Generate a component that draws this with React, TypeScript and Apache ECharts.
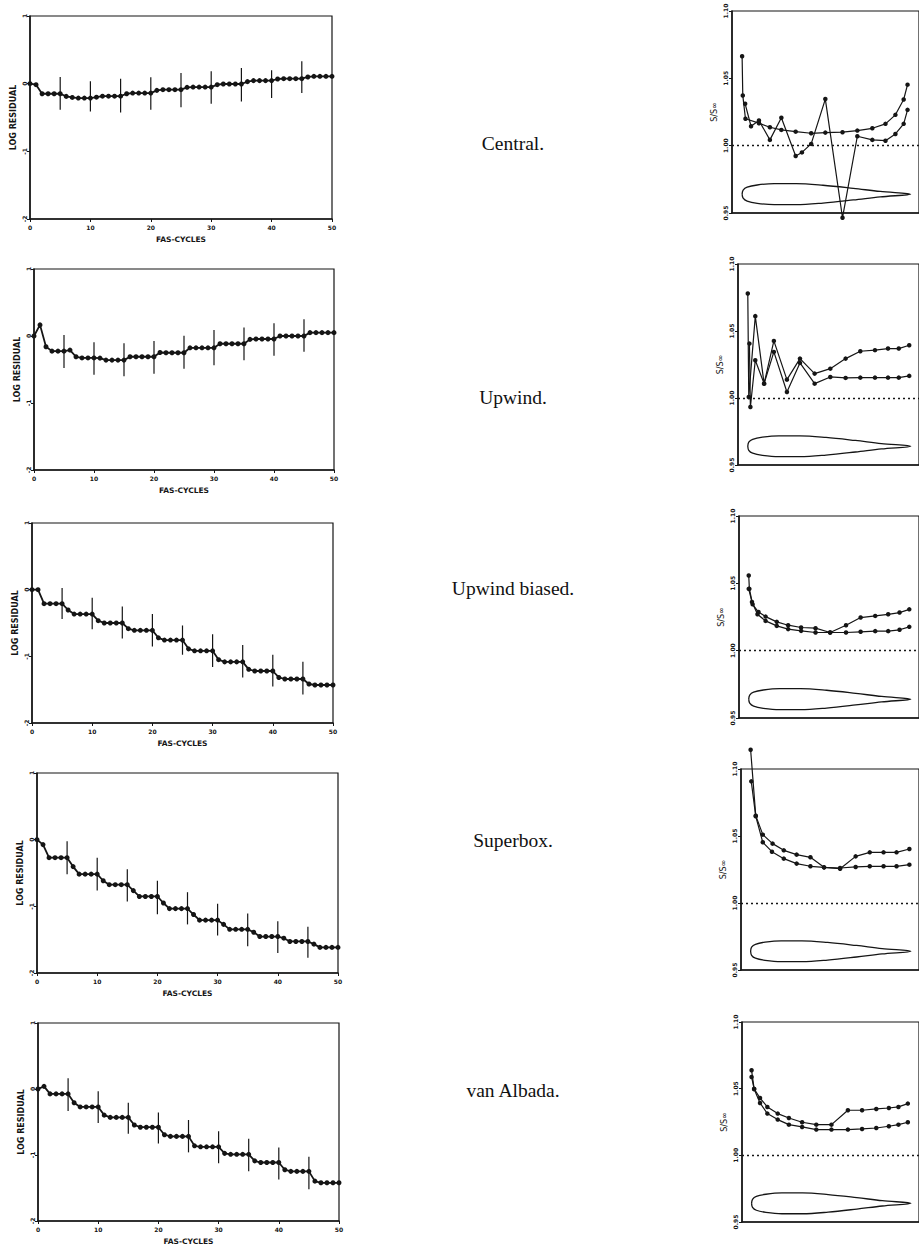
import React, { useEffect, useRef } from "react";
import * as echarts from "echarts";

// ---------- Data ----------
const CYCLES = Array.from({ length: 51 }, (_, i) => i);
const Y_TICKS_LEFT = [-2, -1, 0, 1];
const Y_TICKS_RIGHT = [0.95, 1.0, 1.05, 1.1];

const SCHEMES = ["Central.", "Upwind.", "Upwind biased.", "Superbox.", "van Albada."];

const RES_CENTRAL = [0, -0.015, -0.149, -0.149, -0.149, -0.149, -0.188, -0.203, -0.213, -0.213, -0.213, -0.2, -0.185, -0.185, -0.185, -0.185, -0.149, -0.139, -0.139, -0.139, -0.139, -0.099, -0.089, -0.089, -0.089, -0.089, -0.054, -0.05, -0.05, -0.05, -0.05, -0.015, -0.005, -0.005, -0.005, -0.005, 0.03, 0.045, 0.045, 0.045, 0.045, 0.069, 0.074, 0.074, 0.074, 0.074, 0.099, 0.109, 0.109, 0.109, 0.109];
const RES_UPWIND = [0, 0.166, -0.16, -0.226, -0.226, -0.226, -0.21, -0.31, -0.327, -0.327, -0.327, -0.33, -0.36, -0.36, -0.36, -0.36, -0.31, -0.31, -0.31, -0.31, -0.31, -0.246, -0.25, -0.25, -0.25, -0.25, -0.176, -0.176, -0.176, -0.176, -0.176, -0.116, -0.116, -0.116, -0.116, -0.116, -0.05, -0.045, -0.045, -0.045, -0.045, 0, 0, 0, 0, 0, 0.05, 0.05, 0.05, 0.05, 0.05];
const RES_UPWIND_BIASED = [0, 0, -0.21, -0.21, -0.21, -0.21, -0.305, -0.366, -0.366, -0.366, -0.366, -0.465, -0.5, -0.5, -0.5, -0.5, -0.585, -0.61, -0.61, -0.61, -0.61, -0.722, -0.756, -0.756, -0.756, -0.756, -0.888, -0.917, -0.917, -0.917, -0.917, -1.05, -1.083, -1.083, -1.083, -1.083, -1.195, -1.22, -1.22, -1.22, -1.22, -1.317, -1.34, -1.34, -1.34, -1.34, -1.415, -1.43, -1.43, -1.43, -1.43];
const RES_SUPERBOX = [0, -0.074, -0.27, -0.27, -0.27, -0.27, -0.404, -0.517, -0.517, -0.517, -0.517, -0.616, -0.675, -0.675, -0.675, -0.675, -0.764, -0.852, -0.852, -0.852, -0.852, -0.95, -1.034, -1.034, -1.034, -1.034, -1.123, -1.207, -1.207, -1.207, -1.207, -1.271, -1.345, -1.345, -1.345, -1.345, -1.389, -1.453, -1.453, -1.453, -1.453, -1.478, -1.527, -1.527, -1.527, -1.527, -1.567, -1.616, -1.616, -1.616, -1.616];
const RES_VAN_ALBADA = [0, 0.04, -0.074, -0.074, -0.074, -0.074, -0.208, -0.272, -0.272, -0.272, -0.272, -0.396, -0.43, -0.43, -0.43, -0.43, -0.545, -0.579, -0.579, -0.579, -0.579, -0.693, -0.718, -0.718, -0.718, -0.718, -0.861, -0.876, -0.876, -0.876, -0.876, -0.975, -0.99, -0.99, -0.99, -0.99, -1.089, -1.114, -1.114, -1.114, -1.114, -1.223, -1.248, -1.248, -1.248, -1.248, -1.396, -1.421, -1.421, -1.421, -1.421];

// restart bars: [cycle, low, high]
const BARS_CENTRAL = [[5, -0.386, 0.099], [10, -0.41, 0.035], [15, -0.426, 0.074], [20, -0.386, 0.094], [25, -0.347, 0.158], [30, -0.297, 0.183], [35, -0.262, 0.233], [40, -0.213, 0.198], [45, -0.139, 0.332]];
const BARS_UPWIND = [[5, -0.477, 0.015], [10, -0.578, -0.095], [15, -0.6, -0.11], [20, -0.563, -0.075], [25, -0.487, 0.005], [30, -0.437, 0.09], [35, -0.362, 0.126], [40, -0.296, 0.19], [45, -0.236, 0.25]];
const BARS_UPWIND_BIASED = [[5, -0.44, 0.024], [10, -0.595, -0.12], [15, -0.732, -0.254], [20, -0.854, -0.366], [25, -0.976, -0.537], [30, -1.161, -0.668], [35, -1.317, -0.829], [40, -1.454, -0.976], [45, -1.571, -1.083]];
const BARS_SUPERBOX = [[5, -0.517, -0.025], [10, -0.764, -0.27], [15, -0.926, -0.443], [20, -1.118, -0.616], [25, -1.271, -0.788], [30, -1.438, -0.96], [35, -1.6, -1.108], [40, -1.7, -1.222], [45, -1.773, -1.305]];
const BARS_VAN_ALBADA = [[5, -0.332, 0.163], [10, -0.515, -0.035], [15, -0.678, -0.208], [20, -0.827, -0.356], [25, -0.96, -0.47], [30, -1.124, -0.639], [35, -1.248, -0.752], [40, -1.371, -0.886], [45, -1.52, -1.025]];

// entropy S/S_inf along chord: [x/c, value]
const ENT_CENTRAL_A = [[0, 1.0664], [0.004, 1.0373], [0.02, 1.02], [0.1, 1.0167], [0.165, 1.0137], [0.233, 1.0117], [0.318, 1.0104], [0.41, 1.0092], [0.494, 1.0097], [0.596, 1.01], [0.684, 1.0112], [0.773, 1.0129], [0.851, 1.0162], [0.91, 1.0229], [0.959, 1.0343], [0.982, 1.0453]];
const ENT_CENTRAL_B = [[0.018, 1.0311], [0.053, 1.0144], [0.1, 1.0187], [0.165, 1.0043], [0.233, 1.0207], [0.318, 0.9923], [0.355, 0.995], [0.41, 1.0013], [0.494, 1.0346], [0.596, 0.9465], [0.684, 1.007], [0.773, 1.0043], [0.851, 1.0037], [0.91, 1.0087], [0.959, 1.0162], [0.982, 1.0266]];
const ENT_UPWIND_A = [[0, 1.078], [0.006, 1.0007], [0.046, 1.0611], [0.1, 1.0107], [0.16, 1.0426], [0.24, 1.0137], [0.32, 1.0294], [0.41, 1.0182], [0.506, 1.0219], [0.6, 1.0294], [0.69, 1.0349], [0.78, 1.0357], [0.86, 1.0369], [0.926, 1.0369], [0.99, 1.0394]];
const ENT_UPWIND_B = [[0.01, 1.0406], [0.016, 0.9933], [0.046, 1.0282], [0.1, 1.0107], [0.16, 1.0344], [0.24, 1.0045], [0.32, 1.0262], [0.41, 1.0107], [0.506, 1.0157], [0.6, 1.015], [0.69, 1.0152], [0.78, 1.0152], [0.86, 1.0152], [0.926, 1.0152], [0.99, 1.0165]];
const ENT_UB_A = [[0, 1.0558], [0.004, 1.0459], [0.024, 1.0344], [0.06, 1.0287], [0.104, 1.0253], [0.173, 1.0214], [0.243, 1.0189], [0.323, 1.0172], [0.412, 1.0167], [0.502, 1.0135], [0.6, 1.0189], [0.69, 1.0246], [0.78, 1.0258], [0.86, 1.027], [0.93, 1.0283], [0.99, 1.0307]];
const ENT_UB_B = [[0, 1.0459], [0.02, 1.0361], [0.054, 1.027], [0.104, 1.0221], [0.173, 1.0184], [0.243, 1.016], [0.323, 1.0147], [0.412, 1.0135], [0.502, 1.0135], [0.6, 1.0135], [0.69, 1.014], [0.78, 1.0145], [0.86, 1.0145], [0.93, 1.0155], [0.99, 1.0177]];
const ENT_SB_A = [[0, 1.1144], [0.032, 1.0652], [0.076, 1.051], [0.137, 1.0443], [0.207, 1.0393], [0.287, 1.0361], [0.373, 1.0341], [0.458, 1.0266], [0.558, 1.0256], [0.655, 1.0348], [0.743, 1.0378], [0.829, 1.0378], [0.91, 1.0378], [0.99, 1.0403]];
const ENT_SB_B = [[0.004, 1.0908], [0.032, 1.0647], [0.076, 1.0453], [0.133, 1.0383], [0.207, 1.0331], [0.287, 1.0294], [0.373, 1.0274], [0.458, 1.0266], [0.558, 1.0261], [0.655, 1.0269], [0.743, 1.0274], [0.829, 1.0274], [0.91, 1.0274], [0.99, 1.0286]];
const ENT_VA_A = [[0, 1.0638], [0.016, 1.0498], [0.053, 1.043], [0.099, 1.0363], [0.164, 1.0313], [0.234, 1.028], [0.317, 1.0248], [0.406, 1.023], [0.501, 1.023], [0.604, 1.0338], [0.693, 1.0338], [0.782, 1.0348], [0.861, 1.0355], [0.921, 1.0363], [0.98, 1.0388]];
const ENT_VA_B = [[0, 1.0588], [0.016, 1.0498], [0.053, 1.0393], [0.099, 1.0313], [0.164, 1.0268], [0.234, 1.023], [0.317, 1.0213], [0.406, 1.0193], [0.501, 1.0193], [0.604, 1.0193], [0.693, 1.0198], [0.782, 1.0205], [0.861, 1.0218], [0.921, 1.023], [0.98, 1.0248]];

// airfoil sketch drawn inside each entropy panel
const AIRFOIL_X = [0, 0.006, 0.03, 0.09, 0.19, 0.32, 0.48, 0.66, 0.82, 1.0];
const AIRFOIL_T = [0, 0.003, 0.0052, 0.0068, 0.0078, 0.0078, 0.0066, 0.0043, 0.002, 0];
const AIRFOIL_CENTER = 0.964;

const RESIDUALS = [RES_CENTRAL, RES_UPWIND, RES_UPWIND_BIASED, RES_SUPERBOX, RES_VAN_ALBADA];
const BARS = [BARS_CENTRAL, BARS_UPWIND, BARS_UPWIND_BIASED, BARS_SUPERBOX, BARS_VAN_ALBADA];
const ENTROPY = [
  [ENT_CENTRAL_A, ENT_CENTRAL_B],
  [ENT_UPWIND_A, ENT_UPWIND_B],
  [ENT_UB_A, ENT_UB_B],
  [ENT_SB_A, ENT_SB_B],
  [ENT_VA_A, ENT_VA_B],
];

// ---------- Layout ----------
const LEFT_BOXES = [
  { l: 30, r: 332, t: 16, b: 219 },
  { l: 34, r: 334, t: 269, b: 470 },
  { l: 32, r: 333, t: 523, b: 723 },
  { l: 37, r: 338, t: 773, b: 973 },
  { l: 38, r: 339, t: 1023, b: 1222 },
];
const RIGHT_BOXES = [
  { l: 732, r: 921, t: 11, b: 213 },
  { l: 738, r: 924, t: 264, b: 465 },
  { l: 739, r: 925, t: 516, b: 718 },
  { l: 741, r: 925, t: 769, b: 970 },
  { l: 742, r: 928, t: 1022, b: 1222 },
];
const LABEL_Y = [143, 397, 588, 840, 1090];

const INK = "#151515";

function buildOption() {
  const grid: any[] = [];
  const xAxis: any[] = [];
  const yAxis: any[] = [];
  const series: any[] = [];
  const graphic: any[] = [];

  LEFT_BOXES.forEach((b, i) => {
    grid.push({
      left: b.l, top: b.t, width: b.r - b.l, height: b.b - b.t,
      show: true, borderColor: INK, borderWidth: 1.2, backgroundColor: "transparent",
    });
    const gi = grid.length - 1;
    xAxis.push({
      gridIndex: gi, type: "value", min: 0, max: 50, interval: 10,
      axisLine: { show: true, onZero: false, lineStyle: { color: INK, width: 1.5 } },
      axisTick: { show: true, length: 3, lineStyle: { color: INK } },
      axisLabel: { show: true, fontSize: 6, fontWeight: "bold", color: INK, margin: 5, fontFamily: "DejaVu Sans" },
      splitLine: { show: false },
      name: "FAS-CYCLES", nameLocation: "middle", nameGap: 16,
      nameTextStyle: { fontSize: 7.5, fontWeight: "bold", color: INK, fontFamily: "DejaVu Sans" },
    });
    yAxis.push({
      gridIndex: gi, type: "value", min: Y_TICKS_LEFT[0], max: Y_TICKS_LEFT[3], interval: 1,
      axisLine: { show: true, onZero: false, lineStyle: { color: INK, width: 1.5 } },
      axisTick: { show: true, length: 3, lineStyle: { color: INK } },
      axisLabel: { show: true, fontSize: 6, fontWeight: "bold", color: INK, margin: 3, rotate: 90, fontFamily: "DejaVu Sans" },
      splitLine: { show: false },
      name: "LOG RESIDUAL", nameLocation: "middle", nameGap: 13, nameRotate: 90,
      nameTextStyle: { fontSize: 8, fontWeight: "bold", color: INK, fontFamily: "DejaVu Sans" },
    });
    series.push({
      type: "line", xAxisIndex: gi, yAxisIndex: gi,
      data: CYCLES.map((c) => [c, RESIDUALS[i][c]]),
      symbol: "circle", symbolSize: 5, showSymbol: true,
      lineStyle: { color: INK, width: 1.8 }, itemStyle: { color: INK },
      z: 3,
    });
    series.push({
      type: "custom", xAxisIndex: gi, yAxisIndex: gi,
      data: BARS[i],
      encode: { x: 0, y: [1, 2] },
      renderItem: (params: any, api: any) => {
        const x = api.value(0);
        const p1 = api.coord([x, api.value(1)]);
        const p2 = api.coord([x, api.value(2)]);
        return {
          type: "line",
          shape: { x1: p1[0], y1: p1[1], x2: p2[0], y2: p2[1] },
          style: { stroke: INK, lineWidth: 1.2 },
        };
      },
      z: 2,
    });
  });

  RIGHT_BOXES.forEach((b, i) => {
    grid.push({
      left: b.l, top: b.t, width: b.r - b.l, height: b.b - b.t,
      show: true, borderColor: INK, borderWidth: 1.2, backgroundColor: "transparent",
    });
    const gi = grid.length - 1;
    xAxis.push({
      gridIndex: gi, type: "value", min: -0.06, max: 1.05,
      axisLine: { show: true, onZero: false, lineStyle: { color: INK, width: 1.5 } },
      axisTick: { show: false }, axisLabel: { show: false }, splitLine: { show: false },
    });
    yAxis.push({
      gridIndex: gi, type: "value", min: Y_TICKS_RIGHT[0], max: Y_TICKS_RIGHT[3], interval: 0.05,
      axisLine: { show: true, onZero: false, lineStyle: { color: INK, width: 1.5 } },
      axisTick: { show: true, length: 3, lineStyle: { color: INK } },
      axisLabel: {
        show: true, fontSize: 6, fontWeight: "bold", color: INK, margin: 4, rotate: 90,
        fontFamily: "DejaVu Sans", formatter: (v: number) => v.toFixed(2),
      },
      splitLine: { show: false },
      name: "S/S\u221E", nameLocation: "middle", nameGap: 14, nameRotate: 90,
      nameTextStyle: { fontSize: 8, color: INK, fontFamily: "DejaVu Sans" },
    });
    ENTROPY[i].forEach((s, k) => {
      series.push({
        type: "line", xAxisIndex: gi, yAxisIndex: gi, data: s, clip: false,
        symbol: "circle", symbolSize: 4.5,
        lineStyle: { color: INK, width: 1.2 }, itemStyle: { color: INK },
        z: 3,
        markLine: k === 0 ? {
          silent: true, symbol: ["none", "none"], label: { show: false },
          lineStyle: { type: [2, 3], color: INK, width: 1.3 },
          data: [{ yAxis: 1.0 }],
        } : undefined,
      });
    });
    const outline: number[][] = [];
    AIRFOIL_X.forEach((x, j) => outline.push([x, AIRFOIL_CENTER + AIRFOIL_T[j]]));
    for (let j = AIRFOIL_X.length - 2; j >= 0; j--) outline.push([AIRFOIL_X[j], AIRFOIL_CENTER - AIRFOIL_T[j]]);
    series.push({
      type: "line", xAxisIndex: gi, yAxisIndex: gi, data: outline,
      symbol: "none", smooth: 0.35, lineStyle: { color: INK, width: 1.3 }, z: 2,
    });
  });

  SCHEMES.forEach((s, i) => {
    graphic.push({
      type: "text", x: 513, y: LABEL_Y[i],
      style: {
        text: s, fill: "#111", font: "19.5px 'Liberation Serif', serif",
        textAlign: "center", textVerticalAlign: "middle",
      },
    });
  });

  return {
    animation: false,
    backgroundColor: "#ffffff",
    grid, xAxis, yAxis, series, graphic,
  };
}

export default function App() {
  const ref = useRef<HTMLDivElement>(null);
  useEffect(() => {
    if (!ref.current) return;
    const chart = echarts.init(ref.current, undefined, { renderer: "svg" });
    chart.setOption(buildOption() as any);
    return () => chart.dispose();
  }, []);
  return (
    <div
      ref={ref}
      style={{ position: "absolute", left: 0, top: 0, width: 919, height: 1246, background: "#fff" }}
    />
  );
}
